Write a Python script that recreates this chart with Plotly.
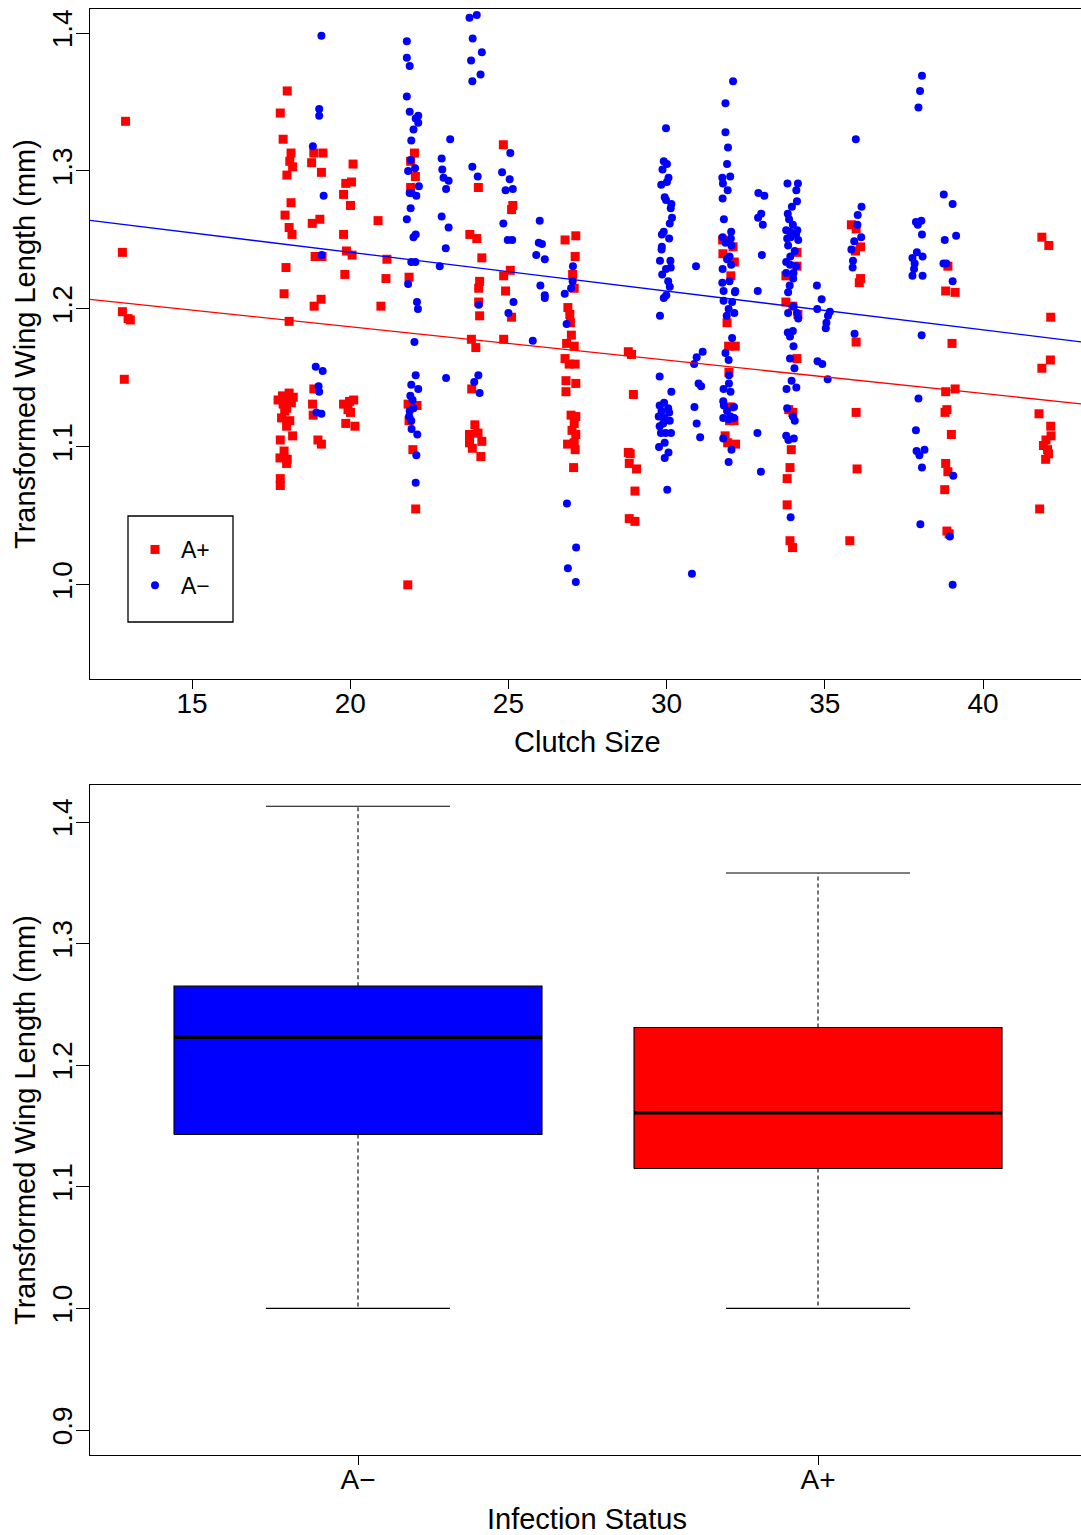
import plotly.graph_objects as go

# ---------------- data ----------------
# Scatter: clutch size (jittered) vs transformed wing length, infected (A+)
red_x = [12.90, 12.80, 12.80, 12.98, 13.05, 12.86,
         18.01, 17.79, 17.88, 18.13, 18.09, 18.18, 18.00, 18.13, 17.94, 18.07, 18.16, 17.97, 17.91, 18.07,
         18.07, 17.86, 18.04, 18.14, 17.88, 17.99, 17.93, 17.83, 18.09, 17.99, 18.18, 17.79, 17.91, 17.78,
         18.01, 17.99, 17.79, 17.79, 17.72, 18.20,
         18.85, 19.14, 18.78, 19.09, 18.80, 19.04, 18.89, 19.11, 19.08, 18.86, 18.85, 18.81, 18.83, 18.98, 19.09,
         20.09, 19.86, 20.04, 19.79, 20.01, 19.79, 19.88, 20.06, 19.83, 19.98, 20.11, 19.79, 19.93, 20.01, 19.86, 20.15,
         20.88, 21.16, 21.13, 20.97,
         22.03, 21.91, 22.06, 21.91, 21.86, 21.83, 22.11, 21.86, 21.98, 22.07, 21.82,
         24.05, 23.78, 24.00, 24.16, 24.09, 24.06, 24.06, 24.09, 23.83, 23.97, 23.84, 23.94, 23.77, 24.04, 23.77,
         24.16, 23.86, 24.13,
         24.84, 25.14, 25.10, 25.06, 24.85, 24.91, 25.10, 24.85,
         26.79, 27.13, 27.11, 27.03, 27.08, 26.88, 26.94, 26.96, 26.99, 26.84, 27.08, 26.79, 26.92, 27.11, 26.82,
         27.13, 26.82, 26.98, 27.13, 27.08, 27.01, 27.13, 26.87, 27.08, 27.11, 27.06,
         28.79, 28.89, 28.95, 28.79, 28.85, 28.82, 29.05, 29.00, 28.82, 29.00,
         31.77, 32.10, 31.78, 32.14, 32.03, 31.91, 31.96, 32.17, 31.97, 32.01, 31.99, 32.13, 31.85, 31.93, 32.18,
         34.12, 34.12, 33.77, 33.77, 33.99, 34.15, 34.12, 33.86, 33.99, 33.94, 33.90, 33.81, 33.81, 33.90, 33.98,
         35.84, 35.99, 36.13, 35.97, 36.13, 36.09, 35.99, 35.99, 36.02, 35.79,
         38.89, 38.82, 39.12, 39.02, 39.12, 38.82, 38.86, 38.80, 39.00, 38.82, 38.89, 38.79, 38.86, 38.93,
         41.86, 42.08, 42.14, 42.13, 41.86, 41.77, 42.14, 42.15, 41.99, 41.91, 42.04, 42.07, 41.98, 41.79]
red_y = [1.336, 1.241, 1.198, 1.193, 1.192, 1.149,
         1.358, 1.342, 1.323, 1.313, 1.307, 1.303, 1.297, 1.277, 1.268, 1.259, 1.254, 1.230, 1.211, 1.191,
         1.139, 1.137, 1.133, 1.132, 1.131, 1.128, 1.126, 1.121, 1.119, 1.115, 1.108, 1.105, 1.097, 1.092,
         1.091, 1.088, 1.077, 1.072, 1.134, 1.136,
         1.313, 1.313, 1.306, 1.299, 1.262, 1.265, 1.238, 1.238, 1.207, 1.202, 1.142, 1.131, 1.123, 1.105, 1.102,
         1.305, 1.291, 1.292, 1.283, 1.275, 1.254, 1.242, 1.239, 1.225, 1.133, 1.134, 1.131, 1.127, 1.125, 1.117, 1.115,
         1.264, 1.236, 1.222, 1.202,
         1.313, 1.307, 1.296, 1.288, 1.223, 1.131, 1.130, 1.119, 1.098, 1.055, 1.000,
         1.288, 1.254, 1.251, 1.237, 1.220, 1.215, 1.205, 1.195, 1.178, 1.172, 1.142, 1.116, 1.109, 1.110, 1.103,
         1.104, 1.099, 1.093,
         1.319, 1.275, 1.272, 1.228, 1.224, 1.213, 1.194, 1.178,
         1.250, 1.253, 1.238, 1.225, 1.215, 1.201, 1.196, 1.190, 1.181, 1.175, 1.173, 1.164, 1.160, 1.160, 1.148,
         1.146, 1.140, 1.123, 1.122, 1.117, 1.112, 1.109, 1.102, 1.103, 1.098, 1.085,
         1.169, 1.167, 1.138, 1.096, 1.095, 1.088, 1.084, 1.068, 1.048, 1.046,
         1.250, 1.245, 1.240, 1.234, 1.224, 1.190, 1.173, 1.173, 1.154, 1.129, 1.119, 1.119, 1.108, 1.103, 1.102,
         1.241, 1.231, 1.224, 1.205, 1.202, 1.196, 1.164, 1.127, 1.125, 1.098, 1.085, 1.077, 1.058, 1.032, 1.027,
         1.261, 1.258, 1.245, 1.242, 1.222, 1.219, 1.176, 1.125, 1.084, 1.032,
         1.231, 1.213, 1.212, 1.175, 1.142, 1.140, 1.127, 1.125, 1.109, 1.088, 1.082, 1.069, 1.039, 1.037,
         1.252, 1.246, 1.194, 1.163, 1.157, 1.124, 1.115, 1.108, 1.105, 1.101, 1.098, 1.095, 1.091, 1.055]

# Uninfected (A-)
blue_x = [19.09, 19.02, 19.02, 18.82, 19.16, 19.10, 18.91, 19.13, 19.00, 19.02, 18.93, 19.09,
          21.79, 21.79, 21.88, 21.79, 21.88, 22.07, 22.15, 22.15, 22.00, 21.93, 21.91, 22.05, 21.83, 22.17,
          21.94, 21.88, 22.09, 21.91, 21.79, 22.00, 22.07, 21.93, 22.06, 21.83, 22.11, 22.14, 22.03, 22.07,
          21.93, 22.15, 21.90, 21.97, 22.00, 21.88, 21.86, 21.93, 21.94, 22.12, 22.09, 22.07,
          23.16, 22.89, 22.91, 22.95, 23.11, 23.03, 22.89, 23.11, 23.02, 22.83, 23.03,
          24.00, 23.77, 23.87, 24.16, 23.82, 24.12, 23.86, 23.86, 24.03, 24.06, 24.05, 23.92, 24.09,
          25.06, 24.80, 25.04, 24.91, 25.14, 24.84, 24.98, 25.12, 25.16, 25.00, 25.77,
          25.99, 25.96, 26.06, 25.88, 26.15, 26.01, 26.15, 26.15,
          27.04, 27.03, 26.98, 26.78, 26.84, 26.85, 27.14, 26.88, 27.13,
          29.98, 29.91, 30.01, 29.87, 30.06, 30.01, 29.83, 29.94, 29.98, 30.15, 30.13, 30.17, 30.10, 29.91,
          29.85, 30.08, 29.85, 29.84, 29.79, 30.12, 30.13, 29.98, 29.86, 30.05, 30.10, 29.99, 29.91, 29.79,
          29.78, 30.15, 29.92, 29.78, 30.05, 29.84, 30.08, 29.75, 29.94, 30.10, 29.89, 29.78, 30.14, 29.82,
          29.97, 29.94, 29.76, 30.06, 29.94, 30.02,
          30.93, 31.14, 30.95, 30.87, 31.01, 31.09, 30.88, 30.95, 31.06, 30.80,
          32.10, 31.86, 31.86, 31.94, 31.91, 32.01, 31.76, 31.78, 31.93, 31.77, 31.81, 32.04, 31.77, 32.03,
          31.86, 32.05, 31.99, 32.04, 31.77, 31.91, 31.76, 31.99, 31.80, 32.17, 32.16, 31.80, 32.07, 31.96,
          32.14, 31.90, 32.07,
          31.86, 31.96, 31.97, 31.97, 31.80, 32.02, 31.79, 31.81, 32.13, 31.91, 32.02, 32.13, 31.79, 31.96,
          31.79, 32.05, 31.96,
          32.90, 33.09, 32.99, 32.89, 33.04, 33.01, 32.88, 32.87, 32.98,
          33.82, 34.15, 34.10, 34.12, 33.96, 33.83, 33.87, 33.99, 33.78, 34.13, 33.90, 34.09, 33.92, 33.81,
          34.16, 33.84, 34.05, 33.91, 33.78, 33.90, 34.09, 34.01, 33.78, 34.00, 33.89, 33.84, 34.01, 34.12,
          33.84, 34.16, 33.83, 33.99, 33.90, 34.01,
          33.90, 34.04, 33.95, 33.79, 34.10, 33.81, 33.99, 34.05, 33.78, 34.02, 33.85, 33.92,
          34.75, 34.76, 34.90, 35.16, 35.10, 35.05, 35.03, 34.77, 34.92, 35.09,
          35.98, 36.16, 36.04, 36.03, 36.15, 35.93, 35.84, 35.89, 35.88, 35.94,
          38.07, 38.01, 37.96, 37.88, 38.05, 37.94, 38.07, 37.77, 37.91, 38.09, 37.84, 37.82, 37.77, 38.09,
          38.06, 37.96, 37.88, 37.90, 38.15, 37.99, 38.07, 38.02,
          38.76, 39.04, 38.79, 39.15, 38.75, 38.84, 39.04, 39.06, 38.95, 39.04]
blue_y = [1.398, 1.345, 1.340, 1.318, 1.282, 1.239, 1.158, 1.155, 1.144, 1.140, 1.125, 1.124,
          1.394, 1.382, 1.376, 1.354, 1.343, 1.338, 1.340, 1.335, 1.330, 1.322, 1.308, 1.302, 1.300, 1.289,
          1.284, 1.284, 1.282, 1.273, 1.265, 1.252, 1.254, 1.234, 1.234, 1.218, 1.205, 1.200, 1.176, 1.152,
          1.145, 1.142, 1.137, 1.134, 1.128, 1.126, 1.122, 1.119, 1.113, 1.109, 1.094, 1.074,
          1.323, 1.309, 1.301, 1.295, 1.293, 1.287, 1.267, 1.259, 1.244, 1.231, 1.150,
          1.413, 1.411, 1.396, 1.386, 1.380, 1.370, 1.365, 1.303, 1.296, 1.203, 1.152, 1.147, 1.139,
          1.313, 1.299, 1.294, 1.286, 1.287, 1.262, 1.250, 1.250, 1.205, 1.197, 1.177,
          1.264, 1.248, 1.247, 1.239, 1.236, 1.217, 1.210, 1.208,
          1.231, 1.220, 1.215, 1.211, 1.189, 1.059, 1.027, 1.012, 1.002,
          1.331, 1.307, 1.305, 1.301, 1.295, 1.292, 1.290, 1.281, 1.279, 1.276, 1.273, 1.266, 1.262, 1.256,
          1.254, 1.251, 1.245, 1.243, 1.235, 1.235, 1.230, 1.229, 1.225, 1.220, 1.216, 1.210, 1.208, 1.195,
          1.151, 1.140, 1.132, 1.130, 1.128, 1.126, 1.125, 1.122, 1.121, 1.119, 1.117, 1.115, 1.110, 1.110,
          1.110, 1.103, 1.100, 1.096, 1.092, 1.069,
          1.231, 1.169, 1.165, 1.160, 1.146, 1.144, 1.129, 1.117, 1.107, 1.008,
          1.365, 1.349, 1.328, 1.317, 1.305, 1.296, 1.295, 1.291, 1.286, 1.280, 1.265, 1.256, 1.252, 1.251,
          1.248, 1.246, 1.238, 1.232, 1.229, 1.236, 1.219, 1.220, 1.213, 1.213, 1.212, 1.206, 1.205, 1.200,
          1.197, 1.195, 1.179,
          1.168, 1.163, 1.152, 1.146, 1.142, 1.140, 1.133, 1.130, 1.129, 1.126, 1.122, 1.121, 1.121, 1.120,
          1.106, 1.098, 1.089,
          1.284, 1.282, 1.269, 1.266, 1.261, 1.239, 1.213, 1.110, 1.082,
          1.291, 1.291, 1.286, 1.278, 1.274, 1.269, 1.265, 1.261, 1.257, 1.257, 1.256, 1.254, 1.252, 1.251,
          1.250, 1.246, 1.242, 1.238, 1.234, 1.232, 1.231, 1.226, 1.226, 1.222, 1.217, 1.212, 1.202, 1.197,
          1.197, 1.193, 1.183, 1.184, 1.180, 1.173,
          1.164, 1.157, 1.148, 1.142, 1.143, 1.128, 1.122, 1.119, 1.108, 1.106, 1.105, 1.049,
          1.217, 1.200, 1.207, 1.198, 1.195, 1.190, 1.186, 1.162, 1.160, 1.149,
          1.323, 1.274, 1.268, 1.261, 1.252, 1.249, 1.243, 1.235, 1.230, 1.182,
          1.369, 1.358, 1.346, 1.263, 1.264, 1.261, 1.254, 1.237, 1.241, 1.238, 1.233, 1.229, 1.224, 1.224,
          1.181, 1.135, 1.112, 1.097, 1.098, 1.094, 1.085, 1.044,
          1.283, 1.276, 1.250, 1.253, 1.233, 1.233, 1.220, 1.079, 1.035, 1.000]

# Fitted regression lines (intercept, slope)
fit_red = (1.2354, -0.002418)
fit_blue = (1.2973, -0.002812)

# Boxplot summary statistics
box_groups = ["A−", "A+"]
box_colors = ["#0000FF", "#FF0000"]
box_lower = [1.000, 1.000]
box_q1 = [1.143, 1.115]
box_median = [1.223, 1.161]
box_q3 = [1.265, 1.231]
box_upper = [1.413, 1.358]

x_ticks_top = [15, 20, 25, 30, 35, 40]
y_ticks_top = [1.0, 1.1, 1.2, 1.3, 1.4]
y_ticks_bottom = [0.9, 1.0, 1.1, 1.2, 1.3, 1.4]

# ---------------- figure ----------------
W, H = 1081, 1535
FONT = "Liberation Sans, Arial, Helvetica, sans-serif"
X1_RANGE = [11.776, 43.097]
Y1_RANGE = [0.93176, 1.4174]
X2_RANGE = [0.41739, 2.5717]
Y2_RANGE = [0.87944, 1.43043]

fig = go.Figure()

fig.add_trace(go.Scatter(x=red_x, y=red_y, mode="markers", name="A+",
                         marker=dict(symbol="square", size=9, color="#FF0000"),
                         xaxis="x", yaxis="y", legendgroup="ap"))
fig.add_trace(go.Scatter(x=blue_x, y=blue_y, mode="markers", name="A−",
                         marker=dict(symbol="circle", size=8, color="#0000FF"),
                         xaxis="x", yaxis="y", legendgroup="am"))

for (a, b), col in [(fit_blue, "#0000FF"), (fit_red, "#FF0000")]:
    fig.add_trace(go.Scatter(x=X1_RANGE, y=[a + b * X1_RANGE[0], a + b * X1_RANGE[1]],
                             mode="lines", line=dict(color=col, width=1.3),
                             showlegend=False, hoverinfo="skip", xaxis="x", yaxis="y"))

# boxplots drawn as simple traces
half_box, half_cap = 0.4, 0.2
for i, g in enumerate(box_groups):
    p = i + 1
    # whiskers (dashed)
    for ya, yb in [(box_q3[i], box_upper[i]), (box_q1[i], box_lower[i])]:
        fig.add_trace(go.Scatter(x=[p, p], y=[ya, yb], mode="lines",
                                 line=dict(color="black", width=1.1, dash="4px,3px"),
                                 showlegend=False, hoverinfo="skip", xaxis="x2", yaxis="y2"))
    # caps
    for yv in [box_upper[i], box_lower[i]]:
        fig.add_trace(go.Scatter(x=[p - half_cap, p + half_cap], y=[yv, yv], mode="lines",
                                 line=dict(color="black", width=1.1),
                                 showlegend=False, hoverinfo="skip", xaxis="x2", yaxis="y2"))
    # box
    fig.add_trace(go.Scatter(x=[p - half_box, p + half_box, p + half_box, p - half_box, p - half_box],
                             y=[box_q1[i], box_q1[i], box_q3[i], box_q3[i], box_q1[i]],
                             mode="lines", fill="toself", fillcolor=box_colors[i],
                             line=dict(color="black", width=1.1),
                             showlegend=False, hoverinfo="skip", xaxis="x2", yaxis="y2"))
    # median
    fig.add_trace(go.Scatter(x=[p - half_box, p + half_box], y=[box_median[i], box_median[i]],
                             mode="lines", line=dict(color="black", width=3.5),
                             showlegend=False, hoverinfo="skip", xaxis="x2", yaxis="y2"))

axis_common = dict(showgrid=False, zeroline=False, showline=True, linecolor="black",
                   linewidth=1.4, ticks="outside", tickcolor="black", tickwidth=1.2,
                   tickfont=dict(family=FONT, size=28, color="black"))

x_dom = [90 / W, 1.0]
fig.update_layout(
    width=W, height=H,
    margin=dict(l=0, r=0, t=0, b=0, pad=0),
    paper_bgcolor="white", plot_bgcolor="white",
    font=dict(family=FONT, color="black"),
    xaxis=dict(domain=x_dom, range=X1_RANGE, tickvals=x_ticks_top, ticklen=9,
               ticklabelstandoff=-10, mirror=True, anchor="y", **axis_common),
    yaxis=dict(domain=[1 - 679 / H, 1 - 9 / H], range=Y1_RANGE, tickvals=y_ticks_top,
               tickformat=".1f", tickangle=-90, ticklen=13, ticklabelstandoff=-7,
               anchor="x", **axis_common),
    xaxis2=dict(domain=x_dom, range=X2_RANGE, tickvals=[1, 2], ticktext=box_groups,
                ticklen=9, ticklabelstandoff=-10, mirror=True, anchor="y2", **axis_common),
    yaxis2=dict(domain=[1 - 1455 / H, 1 - 785 / H], range=Y2_RANGE, tickvals=y_ticks_bottom,
                tickformat=".1f", tickangle=-90, ticklen=13, ticklabelstandoff=-7,
                anchor="x2", **axis_common),
    legend=dict(x=129 / W, y=1 - 528 / H, xanchor="left", yanchor="top",
                bgcolor="rgba(0,0,0,0)", borderwidth=0,
                font=dict(family=FONT, size=23, color="black"),
                tracegroupgap=3, itemwidth=42),
    showlegend=True,
)

# legend frame
fig.add_shape(type="rect", xref="paper", yref="paper",
              x0=128 / W, x1=233 / W, y0=1 - 622 / H, y1=1 - 516 / H,
              line=dict(color="black", width=1.3), fillcolor="rgba(0,0,0,0)")

# axis titles
title_font = dict(family=FONT, size=29, color="black")
fig.add_annotation(text="Clutch Size", xref="paper", yref="paper",
                   x=587 / W, y=1 - 742 / H, xanchor="center", yanchor="middle",
                   showarrow=False, font=title_font)
fig.add_annotation(text="Infection Status", xref="paper", yref="paper",
                   x=587 / W, y=1 - 1519 / H, xanchor="center", yanchor="middle",
                   showarrow=False, font=title_font)
for yc in [344, 1120]:
    fig.add_annotation(text="Transformed Wing Length (mm)", xref="paper", yref="paper",
                       x=25 / W, y=1 - yc / H, xanchor="center", yanchor="middle",
                       textangle=-90, showarrow=False, font=title_font)

fig.write_html("out.html")
